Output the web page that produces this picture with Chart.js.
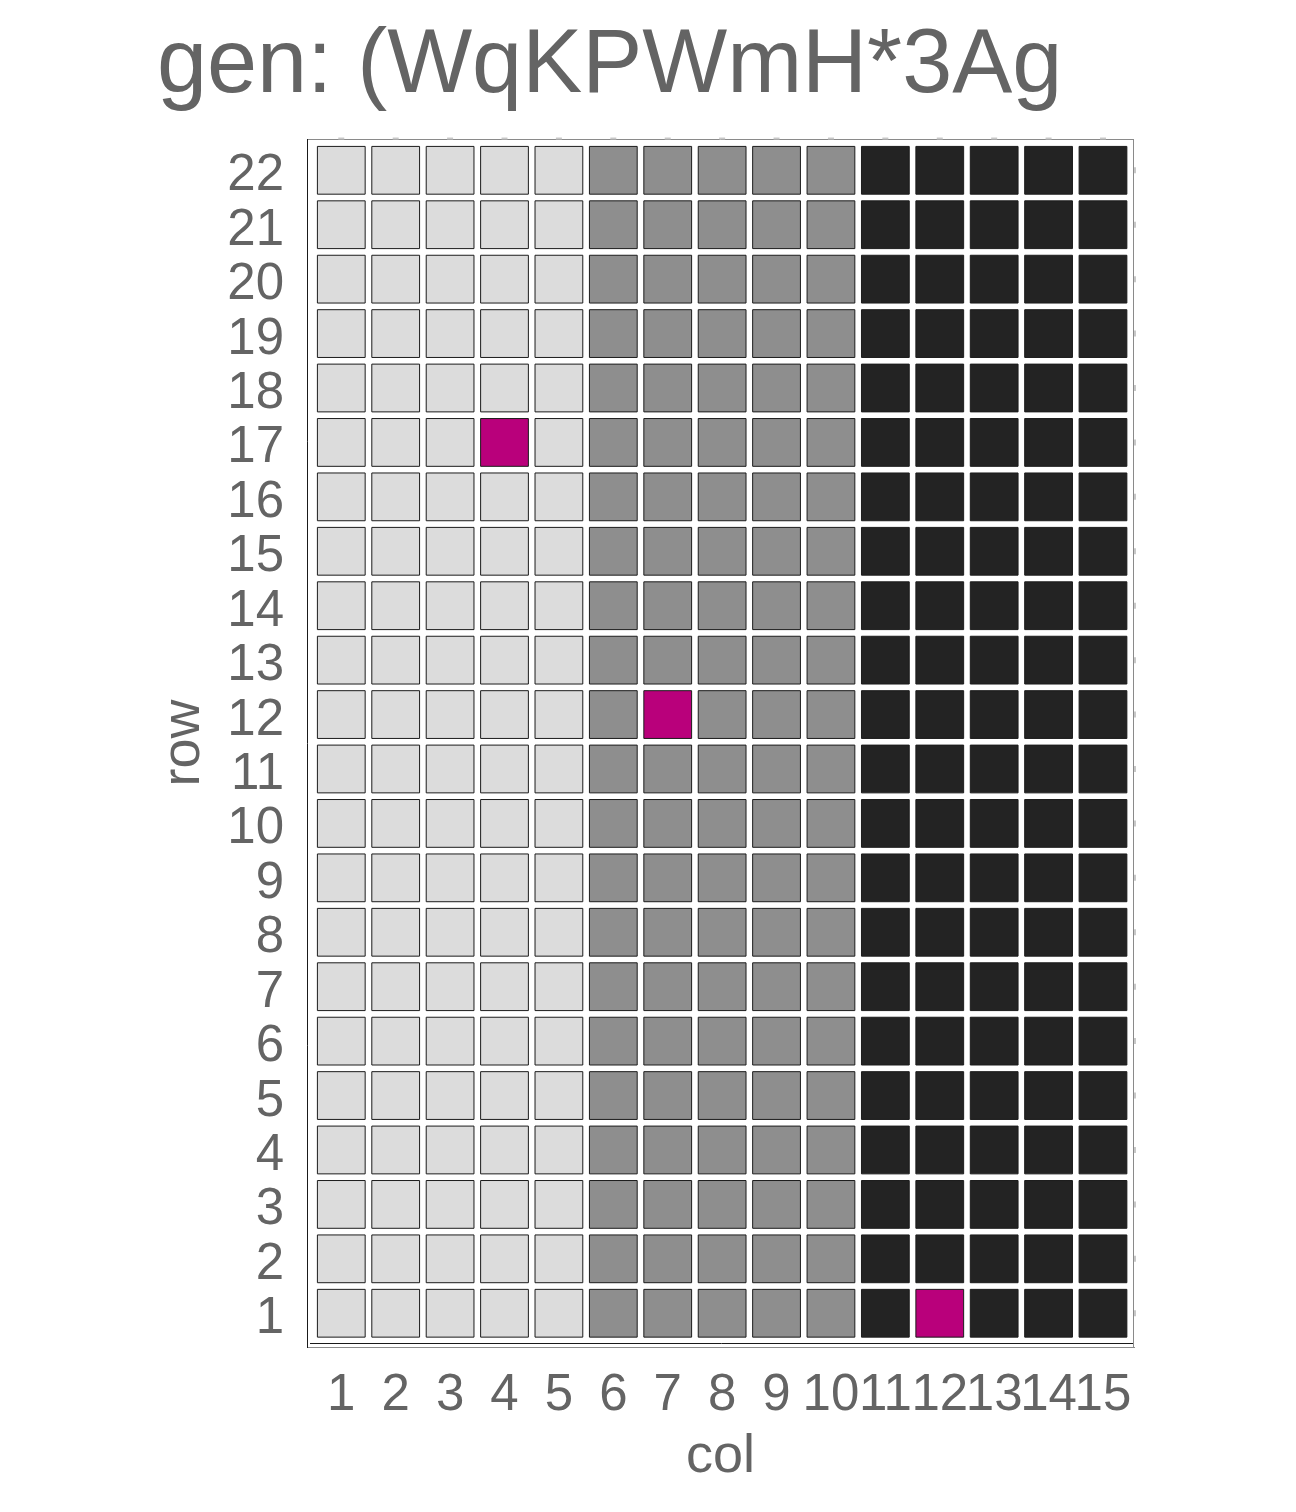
<!DOCTYPE html>
<html>
<head>
<meta charset="utf-8">
<script src="https://cdn.jsdelivr.net/npm/chart.js@4"></script>
<style>
  html, body { margin: 0; padding: 0; background: #ffffff; }
  #wrap { width: 1296px; height: 1512px; }
</style>
</head>
<body>
<div id="wrap"><canvas id="c" width="1296" height="1512"></canvas></div>
<script>
// ---- data ----
const titleText = 'gen: (WqKPWmH*3Ag';
const xTitle = 'col';
const yTitle = 'row';
const cols = [1, 2, 3, 4, 5, 6, 7, 8, 9, 10, 11, 12, 13, 14, 15];
const rows = [1, 2, 3, 4, 5, 6, 7, 8, 9, 10, 11, 12, 13, 14, 15, 16, 17, 18, 19, 20, 21, 22];
// shade level of each column (0 = light, 1 = mid, 2 = dark)
const colLevel = [0, 0, 0, 0, 0, 1, 1, 1, 1, 1, 2, 2, 2, 2, 2];
// highlighted cells
const highlightCols = [4, 7, 12];
const highlightRows = [17, 12, 1];
const levelColors = ['#dcdcdc', '#8e8e8e', '#232323'];
const highlightColor = '#b9007b';

// ---- build cells from arrays ----
const cells = [];
rows.forEach(r => {
  cols.forEach((c, i) => {
    let hl = false;
    highlightCols.forEach((hc, k) => { if (hc === c && highlightRows[k] === r) hl = true; });
    cells.push({ x: c, y: r, level: colLevel[i], hl: hl });
  });
});

const FONT = "'Liberation Sans', Arial, Helvetica, sans-serif";
const TEXT = '#646464';

const framePlugin = {
  id: 'frame',
  beforeDatasetsDraw(chart) {
    const { ctx, chartArea: a, scales } = chart;
    ctx.save();
    ctx.lineWidth = 1;
    ctx.strokeStyle = '#8a8a8a';
    ctx.beginPath(); ctx.moveTo(a.left, a.top + 0.5); ctx.lineTo(a.right, a.top + 0.5); ctx.stroke();
    ctx.beginPath(); ctx.moveTo(a.right - 0.5, a.top); ctx.lineTo(a.right - 0.5, a.bottom); ctx.stroke();
    ctx.beginPath(); ctx.moveTo(a.left, a.bottom + 0.5); ctx.lineTo(a.right + 1, a.bottom + 0.5); ctx.stroke();
    ctx.strokeStyle = '#1a1a1a';
    ctx.beginPath(); ctx.moveTo(a.left + 0.5, a.top); ctx.lineTo(a.left + 0.5, a.bottom + 1); ctx.stroke();
    ctx.beginPath(); ctx.moveTo(a.left + 3, a.bottom - 3.5); ctx.lineTo(a.right - 1, a.bottom - 3.5); ctx.stroke();
    ctx.strokeStyle = '#c8c8c8';
    ctx.lineWidth = 2;
    cols.forEach(c => {
      const px = scales.x.getPixelForValue(c);
      ctx.beginPath(); ctx.moveTo(px - 3, a.top - 0.5); ctx.lineTo(px + 3, a.top - 0.5); ctx.stroke();
    });
    rows.forEach(r => {
      const py = scales.y.getPixelForValue(r);
      ctx.beginPath(); ctx.moveTo(a.right + 1, py - 3); ctx.lineTo(a.right + 1, py + 3); ctx.stroke();
    });
    ctx.restore();
  }
};

const cellRadius = (ctx) => {
  const s = ctx.chart.scales.x;
  return Math.abs(s.getPixelForValue(1) - s.getPixelForValue(0)) * 0.878 / Math.SQRT2;
};

new Chart(document.getElementById('c'), {
  type: 'scatter',
  data: {
    datasets: [{
      data: cells,
      pointStyle: 'rect',
      rotation: 0,
      pointRadius: cellRadius,
      pointHoverRadius: cellRadius,
      backgroundColor: (ctx) => {
        const d = ctx.raw;
        if (!d) return levelColors[0];
        return d.hl ? highlightColor : levelColors[d.level];
      },
      borderColor: '#1c1c1c',
      borderWidth: 1,
      clip: false
    }]
  },
  options: {
    responsive: false,
    animation: false,
    events: [],
    layout: { padding: { left: 157, right: 162, top: 0, bottom: 28 } },
    plugins: {
      legend: { display: false },
      tooltip: { enabled: false },
      title: {
        display: true,
        text: titleText,
        align: 'start',
        color: TEXT,
        font: { family: FONT, size: 90, weight: 'normal', lineHeight: 1.2 },
        padding: { top: 13, bottom: 18 }
      }
    },
    scales: {
      x: {
        type: 'linear',
        position: 'bottom',
        min: 0.37,
        max: 15.57,
        afterBuildTicks: (s) => { s.ticks = cols.map(v => ({ value: v })); },
        afterFit: (s) => { s.height = 137; },
        grid: { display: false },
        border: { display: false },
        ticks: {
          color: TEXT,
          font: { family: FONT, size: 51 },
          padding: 10,
          maxRotation: 0,
          autoSkip: false,
          callback: (v) => String(v)
        },
        title: {
          display: true,
          text: xTitle,
          color: TEXT,
          font: { family: FONT, size: 54, lineHeight: 1 },
          padding: 0
        }
      },
      y: {
        type: 'linear',
        position: 'left',
        min: 0.38,
        max: 22.575,
        afterBuildTicks: (s) => { s.ticks = rows.map(v => ({ value: v })); },
        afterFit: (s) => { s.width = 150; },
        grid: { display: false },
        border: { display: false },
        ticks: {
          color: TEXT,
          font: { family: FONT, size: 51 },
          padding: 15,
          labelOffset: 6,
          autoSkip: false,
          callback: (v) => String(v)
        },
        title: {
          display: true,
          text: yTitle,
          color: TEXT,
          font: { family: FONT, size: 54, lineHeight: 1 },
          padding: 0
        }
      }
    }
  },
  plugins: [framePlugin]
});
</script>
</body>
</html>
